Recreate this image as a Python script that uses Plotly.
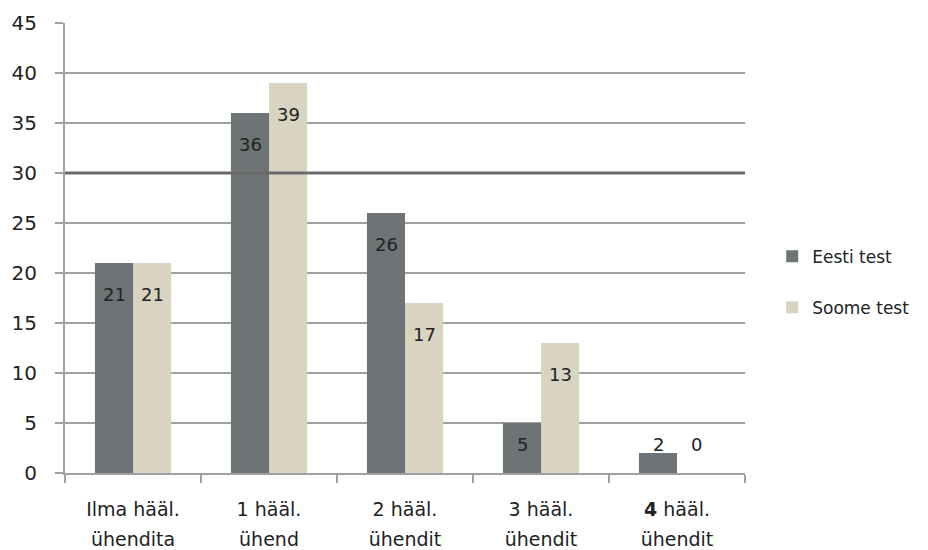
import plotly.graph_objects as go

# Category labels (two lines each) and series values
categories = ["Ilma hääl.|ühendita", "1 hääl.|ühend", "2 hääl.|ühendit",
              "3 hääl.|ühendit", "<b>4</b> hääl.|ühendit"]
eesti_test = [21, 36, 26, 5, 2]
soome_test = [21, 39, 17, 13, 0]
y_ticks = [0, 5, 10, 15, 20, 25, 30, 35, 40, 45]

FONT = "DejaVu Sans"
DARK = "#6e7375"
BEIGE = "#d9d4c1"
GRID = "#a0a0a0"
TEXT = "#222222"

# Two-line labels; the larger base tick font gives the wide line spacing
cat_labels = ["<br>".join(f'<span style="font-size:19px">{part}</span>'
                          for part in c.split("|")) for c in categories]

fig = go.Figure()
fig.add_trace(go.Bar(x=cat_labels, y=eesti_test, name="Eesti test",
                     marker=dict(color=DARK, line=dict(width=0)),
                     legendgroup="a"))
fig.add_trace(go.Bar(x=cat_labels, y=soome_test, name="Soome test",
                     marker=dict(color=BEIGE, line=dict(width=0)),
                     legendgroup="b"))

# Value labels sit just below each bar's top, kept above the axis for short bars
for series, shift in ((eesti_test, -19), (soome_test, 19)):
    for lab, v in zip(cat_labels, series):
        fig.add_annotation(x=lab, y=max(v - 3.1, 2.9), xref="x", yref="y",
                           xshift=shift, text=str(v), showarrow=False,
                           font=dict(family=FONT, size=18, color=TEXT))

# Darker guide line at 30
fig.add_shape(type="line", xref="paper", yref="y", x0=0, x1=1, y0=30, y1=30,
              line=dict(color="#6a6a6a", width=3), layer="above")

fig.update_layout(
    width=928, height=550,
    margin=dict(l=65, r=183, t=23, b=77),
    paper_bgcolor="white", plot_bgcolor="white",
    barmode="group", bargap=0.44, bargroupgap=0,
    font=dict(family=FONT, color=TEXT),
    legend=dict(x=1.04, y=0.424, xanchor="left", yanchor="middle",
                traceorder="grouped", tracegroupgap=26,
                font=dict(family=FONT, size=17, color=TEXT),
                itemwidth=30),
    xaxis=dict(
        type="category", automargin=False,
        showline=True, linecolor=GRID, linewidth=2,
        ticks="outside", ticklen=8, tickcolor=GRID, tickwidth=2,
        tickson="boundaries",
        showgrid=False, tickfont=dict(family=FONT, size=23, color=TEXT),
        ticklabelstandoff=13,
    ),
    yaxis=dict(
        range=[0, 45], tickmode="array", tickvals=y_ticks, automargin=False,
        showline=True, linecolor=GRID, linewidth=2,
        ticks="outside", ticklen=8, tickcolor=GRID, tickwidth=2,
        showgrid=True, gridcolor=GRID, gridwidth=2,
        zeroline=False, ticklabelstandoff=14,
        tickfont=dict(family=FONT, size=20, color=TEXT),
    ),
)

fig.write_html("out.html")
